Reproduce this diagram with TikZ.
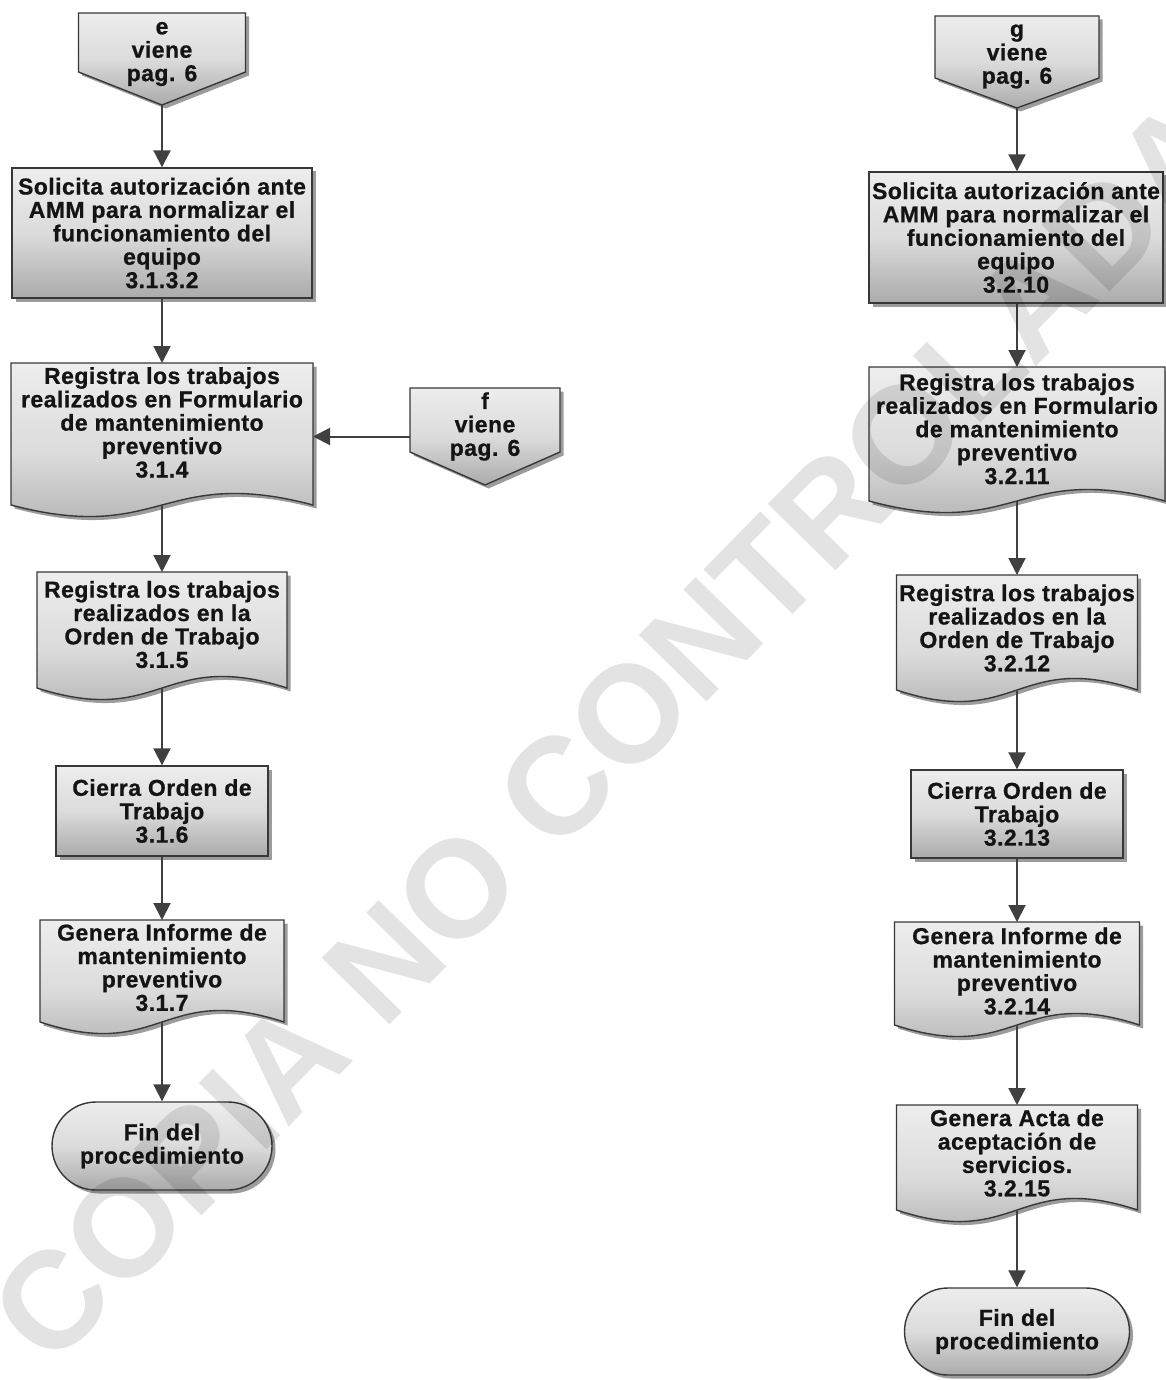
\documentclass[tikz,border=0pt]{standalone}
\usepackage{fontspec}
\setmainfont{Liberation Sans}[LetterSpace=2, BoldFeatures={FakeBold=0.8}]
\newfontfamily\wmfont{Liberation Sans}
\usetikzlibrary{arrows.meta,shadows,shapes.misc,calc}

\tikzset{
  shapefill/.style={top color=black!7, bottom color=black!33, middle color=black!14,
    draw=black!78, line width=1.4pt,
    drop shadow={shadow xshift=3.5pt, shadow yshift=-3.5pt, fill=black!70, opacity=0.55}},
  area/.style={rectangle, inner sep=0pt, outer sep=0pt},
  txt/.style={align=center, inner sep=0pt, text=black!92,
    font=\bfseries\fontsize{23}{23.4}\selectfont},
  procbox/.style={shapefill, rectangle, inner sep=0pt, align=center, text=black!92,
    font=\bfseries\fontsize{23}{23.4}\selectfont},
  termbox/.style={shapefill, rounded rectangle, inner sep=0pt, align=center, text=black!92,
    font=\bfseries\fontsize{23}{23.4}\selectfont},
  arr/.style={draw=black!75, line width=2pt, -{Triangle[length=17pt,width=17pt]}},
}

% document symbol drawn over an invisible frame node
\newcommand\docpath[1]{%
  \path[shapefill] (#1.north west) -- (#1.north east) -- (#1.south east)
    .. controls ($(#1.south)+(0,-40)$) and ($(#1.south)+(0,40)$) .. (#1.south west) -- cycle;}
% off-page connector (pentagon pointing down)
\newcommand\offpath[2]{%
  \path[shapefill] (#1.north west) -- (#1.north east) -- ($(#1.south east)+(0,-#2)$)
    -- (#1.south) -- ($(#1.south west)+(0,-#2)$) -- cycle;}

\begin{document}
\begin{tikzpicture}[x=1pt, y=-1pt]
\useasboundingbox (0,0) rectangle (1165,1380);
\fill[white] (0,0) rectangle (1165,1380);

% ---------------- left column ----------------
\node[area, minimum width=167pt, minimum height=92pt] (e) at (162,59) {};
\offpath{e}{33}
\node[txt] (et) at (162,54) {e\\viene\\pag. 6};

\node[procbox, minimum width=300pt, minimum height=130pt] (A1) at (162,233)
  {Solicita autorización ante\\AMM para normalizar el\\funcionamiento del\\equipo\\3.1.3.2};

\node[area, minimum width=302pt, minimum height=142pt] (A2) at (162,434) {};
\docpath{A2}
\node[txt] (A2t) at (162,422.5) {Registra los trabajos\\realizados en Formulario\\de mantenimiento\\preventivo\\3.1.4};

\node[area, minimum width=150pt, minimum height=97pt] (f) at (485,436.5) {};
\offpath{f}{33}
\node[txt] (ft) at (485,426.5) {f\\viene\\pag. 6};

\node[area, minimum width=250pt, minimum height=116pt] (A3) at (162,630) {};
\docpath{A3}
\node[txt] (A3t) at (162,624.5) {Registra los trabajos\\realizados en la\\Orden de Trabajo\\3.1.5};

\node[procbox, minimum width=212pt, minimum height=90pt] (A4) at (162,811)
  {Cierra Orden de\\Trabajo\\3.1.6};

\node[area, minimum width=244pt, minimum height=102pt] (A5) at (162,971) {};
\docpath{A5}
\node[txt] (A5t) at (162,967.5) {Genera Informe de\\mantenimiento\\preventivo\\3.1.7};

\node[termbox, minimum width=220pt, minimum height=88pt] (TA) at (162,1146)
  {Fin del\\procedimiento};

% ---------------- right column ----------------
\node[area, minimum width=164pt, minimum height=92pt] (g) at (1017,62) {};
\offpath{g}{30}
\node[txt] (gt) at (1017,56.5) {g\\viene\\pag. 6};

\node[procbox, minimum width=294pt, minimum height=131pt] (B1) at (1016,237.5)
  {Solicita autorización ante\\AMM para normalizar el\\funcionamiento del\\equipo\\3.2.10};

\node[area, minimum width=296pt, minimum height=134pt] (B2) at (1017,434) {};
\docpath{B2}
\node[txt] (B2t) at (1017,429) {Registra los trabajos\\realizados en Formulario\\de mantenimiento\\preventivo\\3.2.11};

\node[area, minimum width=241pt, minimum height=115pt] (B3) at (1017,632.5) {};
\docpath{B3}
\node[txt] (B3t) at (1017,628) {Registra los trabajos\\realizados en la\\Orden de Trabajo\\3.2.12};

\node[procbox, minimum width=212pt, minimum height=88pt] (B4) at (1017,814)
  {Cierra Orden de\\Trabajo\\3.2.13};

\node[area, minimum width=245pt, minimum height=103pt] (B5) at (1017,973.5) {};
\docpath{B5}
\node[txt] (B5t) at (1017,971) {Genera Informe de\\mantenimiento\\preventivo\\3.2.14};

\node[area, minimum width=241pt, minimum height=105pt] (B6) at (1017,1157.5) {};
\docpath{B6}
\node[txt] (B6t) at (1017,1153) {Genera Acta de\\aceptación de\\servicios.\\3.2.15};

\node[termbox, minimum width=225pt, minimum height=87pt] (TB) at (1017,1331.5)
  {Fin del\\procedimiento};

% ---------------- connectors ----------------
\draw[arr] (e.south) -- (A1.north);
\draw[arr] (A1.south) -- (A2.north);
\draw[arr] (f.west) -- (f.west -| A2.east);
\draw[arr] (A2.south) -- (A3.north);
\draw[arr] (A3.south) -- (A4.north);
\draw[arr] (A4.south) -- (A5.north);
\draw[arr] (A5.south) -- (TA.north);

\draw[arr] (g.south) -- (g.south |- B1.north);
\draw[arr] (g.south |- B1.south) -- (B2.north);
\draw[arr] (B2.south) -- (B3.north);
\draw[arr] (B3.south) -- (B4.north);
\draw[arr] (B4.south) -- (B5.north);
\draw[arr] (B5.south) -- (B6.north);
\draw[arr] (B6.south) -- (TB.north);

% ---------------- stamp ----------------
\node[rotate=45.5, inner sep=0pt, text=black, text opacity=0.11,
  font=\wmfont\bfseries\fontsize{138}{138}\selectfont] (stamp) at (613,730)
  {COPIA NO CONTROLADA};
\end{tikzpicture}
\end{document}
